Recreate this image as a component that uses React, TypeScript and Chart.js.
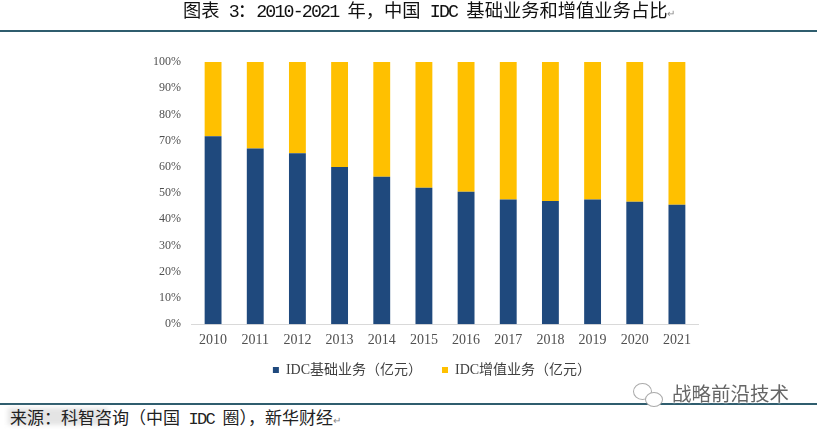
import React, { useEffect, useRef } from "react";
import { Chart, registerables } from "chart.js";

Chart.register(...registerables);

const years = ["2010","2011","2012","2013","2014","2015","2016","2017","2018","2019","2020","2021"];
const basic = [71.7,67,65.2,60,56.2,52,50.5,47.6,47,47.6,46.7,45.6];
const valueAdded = [28.3,33,34.8,40,43.8,48,49.5,52.4,53,52.4,53.3,54.4];
const sourceText = "来源：科智咨询（中国 IDC 圈），新华财经";
const markText = "战略前沿技术";
const SERIF = '"Liberation Serif", "Noto Sans CJK SC", serif';
const CJK = '"Noto Sans CJK SC", sans-serif';
const MONO = '"Liberation Mono", monospace';

const legendShift = {
  id: "legendShift",
  afterLayout(chart: any) {
    const l = chart.legend;
    l.left += 12; l.right += 12; l.top -= 14; l.bottom -= 14;
  },
};

function Mixed({ text }: { text: string }) {
  const parts = text.split(/([\x20-\x7e]+)/).filter(Boolean);
  return (
    <>
      {parts.map((p, i) =>
        /[\x20-\x7e]/.test(p[0])
          ? <span key={i} style={{ fontFamily: MONO, letterSpacing: "-0.1em", whiteSpace: "pre" }}>{p}</span>
          : <span key={i}>{p}</span>
      )}
    </>
  );
}

export default function App() {
  const ref = useRef<HTMLCanvasElement>(null);
  useEffect(() => {
    const chart = new Chart(ref.current!, {
      type: "bar",
      data: {
        labels: years,
        datasets: [
          { label: "IDC基础业务（亿元）", data: basic, backgroundColor: "#1F497D", stack: "a", barPercentage: 0.4, categoryPercentage: 1 },
          { label: "IDC增值业务（亿元）", data: valueAdded, backgroundColor: "#FFC000", stack: "a", barPercentage: 0.4, categoryPercentage: 1 },
        ],
      },
      plugins: [legendShift],
      options: {
        animation: false,
        responsive: false,
        layout: { padding: { left: 142, right: 119, top: 62, bottom: 0 } },
        plugins: {
          tooltip: { enabled: false },
          legend: {
            position: "bottom",
            labels: { boxWidth: 6, boxHeight: 6, padding: 20, color: "#404040", font: { family: SERIF, size: 14 } },
          },
        },
        scales: {
          x: {
            stacked: true,
            grid: { display: false, drawTicks: false },
            border: { color: "#D9D9D9" },
            ticks: { color: "#505050", padding: 8, font: { family: SERIF, size: 14 }, maxRotation: 0 },
          },
          y: {
            stacked: true,
            min: 0,
            max: 100,
            grid: { display: false, drawTicks: false },
            border: { display: false },
            ticks: { stepSize: 10, color: "#505050", padding: 11, callback: (v) => v + "%", font: { family: SERIF, size: 12 } },
          },
        },
      },
    });
    return () => chart.destroy();
  }, []);

  const abs: React.CSSProperties = { position: "absolute", whiteSpace: "nowrap" };
  const bubble: React.CSSProperties = { position: "absolute", borderRadius: "50%", border: "1px solid #aaa", background: "#fff" };
  return (
    <div style={{ position: "absolute", left: 0, top: 0, width: 817, height: 431, background: "#fff", overflow: "hidden" }}>
      <canvas ref={ref} width={817} height={401} style={{ position: "absolute", left: 0, top: 0 }} />
      <div style={{ ...abs, left: 183, top: -3, font: `18.3px/24px ${CJK}`, color: "#111" }}>
        图表<Mixed text=" 3" />：<Mixed text="2010-2021 " />年，中国<Mixed text=" IDC " />基础业务和增值业务占比<span style={{ fontSize: 10, color: "#888" }}>↵</span>
      </div>
      <div style={{ ...abs, left: 0, width: 817, top: 30, height: 2, background: "#2F5D6E" }} />
      <div style={{ ...abs, left: 0, width: 817, top: 403, height: 2, background: "#2F5D6E" }} />
      <div style={{ ...abs, left: 8, top: 408, width: 100, height: 17, background: "#e4e4e4", filter: "blur(2px)" }} />
      <div style={{ ...abs, left: 10, top: 406, font: `17px/22px ${CJK}`, color: "#222" }}>
        <Mixed text={sourceText} /><span style={{ fontSize: 10, color: "#888" }}>↵</span>
      </div>
      <div style={{ ...bubble, left: 633, top: 383, width: 17, height: 15 }} />
      <div style={{ ...bubble, left: 645, top: 392, width: 16, height: 13 }} />
      <div style={{ ...abs, left: 672, top: 380, font: `19.5px/26px ${CJK}`, color: "#666", textShadow: "0 0 2px #fff, 0 0 2px #fff" }}>{markText}</div>
    </div>
  );
}
